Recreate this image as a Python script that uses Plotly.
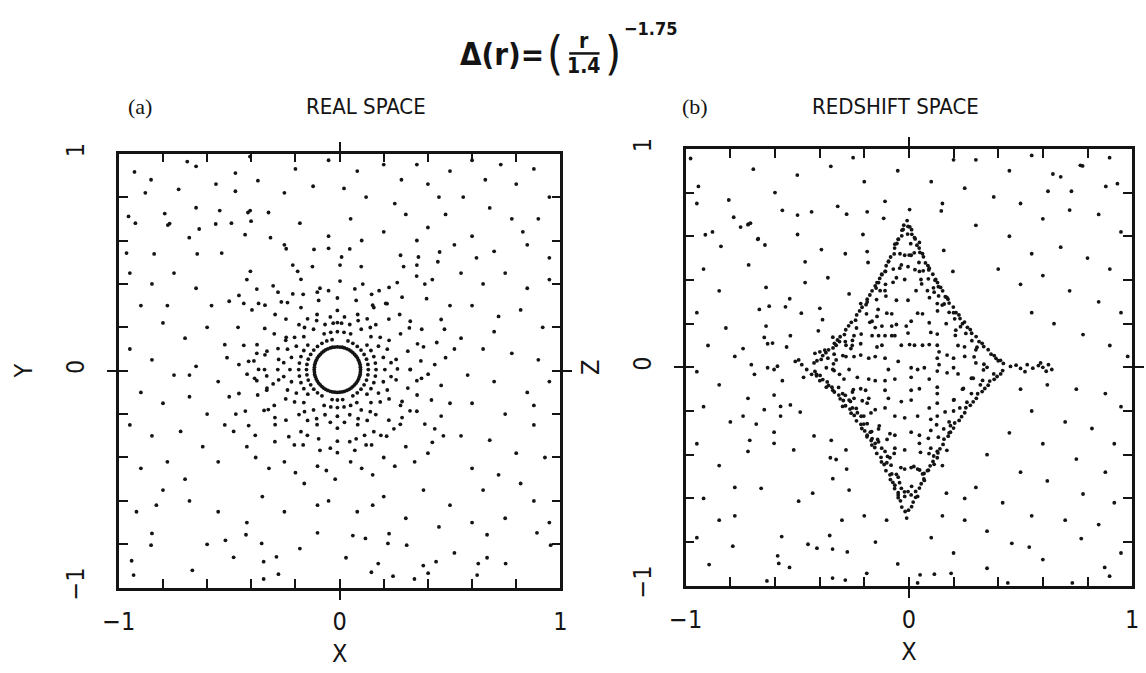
import plotly.graph_objects as go

# ---------------- panel (a): real space, (x, y) ----------------
A_RING1 = [(0.095,0.005),(0.093,0.027),(0.086,0.048),(0.075,0.067),(0.060,0.083),(0.043,0.096),
           (0.022,0.105),(0.001,0.109),(-0.021,0.109),(-0.042,0.105),(-0.063,0.096),(-0.080,0.083),
           (-0.095,0.067),(-0.106,0.048),(-0.113,0.027),(-0.115,0.005),(-0.113,-0.017),(-0.106,-0.038),
           (-0.095,-0.057),(-0.080,-0.073),(-0.063,-0.086),(-0.042,-0.095),(-0.021,-0.099),(0.001,-0.099),
           (0.022,-0.095),(0.043,-0.086),(0.060,-0.073),(0.075,-0.057),(0.086,-0.038),(0.093,-0.017),
           (0.094,0.016),(0.090,0.037),(0.081,0.058),(0.068,0.075),(0.052,0.090),(0.033,0.101),
           (0.012,0.108),(-0.010,0.110),(-0.032,0.108),(-0.053,0.101),(-0.072,0.090),(-0.088,0.075),
           (-0.101,0.058),(-0.110,0.037),(-0.114,0.016),(-0.114,-0.006),(-0.110,-0.027),(-0.101,-0.048),
           (-0.088,-0.065),(-0.072,-0.080),(-0.053,-0.091),(-0.032,-0.098),(-0.010,-0.100),(0.012,-0.098),
           (0.033,-0.091),(0.052,-0.080),(0.068,-0.065),(0.081,-0.048),(0.090,-0.027),(0.094,-0.006)]
A_RING2 = [(0.130,0.005),(0.128,0.029),(0.122,0.053),(0.111,0.075),(0.097,0.095),(0.080,0.112),
           (0.060,0.126),(0.038,0.137),(-0.034,0.143),(-0.058,0.137),(-0.080,0.126),
           (-0.100,0.112),(-0.117,0.095),(-0.131,0.075),(-0.142,0.053),(-0.148,0.029),(-0.150,0.005),
           (-0.148,-0.019),(-0.142,-0.043),(-0.131,-0.065),(-0.117,-0.085),(-0.100,-0.102),(-0.080,-0.116),
           (-0.034,-0.133),(-0.010,-0.135),(0.014,-0.133),(0.060,-0.116),(0.080,-0.102),
           (0.097,-0.085),(0.111,-0.065),(0.122,-0.043),(0.128,-0.019)]
A_RING3 = [(0.124,-0.108),(0.142,-0.083),(0.155,-0.055),(0.162,-0.025),(0.165,0.005),(0.162,0.035),
           (0.155,0.065),(0.142,0.093),(0.124,0.118),(0.050,0.170),(0.020,0.177),(-0.010,0.180),
           (-0.040,0.177),(-0.070,0.170),(-0.144,0.118),(-0.162,0.093),(-0.175,0.065),(-0.182,0.035),
           (-0.185,0.005),(-0.182,-0.025),(-0.175,-0.055),(-0.162,-0.083),(-0.144,-0.108),(-0.070,-0.160),
           (-0.040,-0.167),(-0.010,-0.170),(0.020,-0.167),(0.050,-0.160),(0.078,-0.147)]
A_RING4 = [(0.205,0.005),(0.198,0.061),(0.176,0.113),(0.142,0.157),(0.098,0.191),(0.046,0.213),
           (0.009,0.219),(-0.010,0.222),(-0.029,0.219),(-0.066,0.213),(-0.118,0.191),(-0.162,0.157),
           (-0.196,0.113),(-0.218,0.061),(-0.225,0.005),(-0.218,-0.051),(-0.196,-0.103),(-0.162,-0.147),
           (-0.118,-0.181),(-0.066,-0.203),(-0.010,-0.210),(0.046,-0.203),(0.098,-0.181),(0.142,-0.147),
           (0.176,-0.103),(0.198,-0.051)]
A_RING4B = [(0.233,0.037),(0.216,0.099),(0.184,0.154),(0.139,0.199),(0.084,0.231),(0.022,0.248),
            (-0.042,0.248),(-0.104,0.231),(-0.159,0.199),(-0.204,0.154),(-0.236,0.099),(-0.253,0.037),
            (-0.253,-0.027),(-0.236,-0.089),(-0.204,-0.144),(-0.159,-0.189),(-0.104,-0.221),(-0.042,-0.238),
            (0.022,-0.238),(0.084,-0.221),(0.139,-0.189),(0.184,-0.144),(0.216,-0.089),(0.233,-0.027)]
A_RING5 = [(0.256,0.052),(0.224,0.140),(0.164,0.212),(0.082,0.259),(-0.010,0.278),(-0.102,0.259),
           (-0.184,0.212),(-0.244,0.140),(-0.276,0.052),(-0.276,-0.042),(-0.244,-0.130),(-0.184,-0.202),
           (-0.102,-0.249),(-0.010,-0.265),(0.082,-0.249),(0.164,-0.202),(0.224,-0.130),(0.256,-0.042),
           (0.262,0.008),(0.125,0.239),(-0.145,0.239),(-0.280,0.005),(-0.145,-0.229),(0.125,-0.229)]
A_RING6 = [(0.320,0.005),(0.309,0.090),(0.276,0.170),(0.223,0.238),(0.155,0.291),(0.075,0.324),
           (-0.010,0.335),(-0.095,0.324),(-0.175,0.291),(-0.243,0.238),(-0.296,0.170),(-0.329,0.090),
           (-0.340,0.005),(-0.329,-0.080),(-0.296,-0.160),(-0.243,-0.228),(-0.175,-0.281),(-0.095,-0.314),
           (-0.010,-0.325),(0.075,-0.314),(0.155,-0.281),(0.223,-0.228),(0.276,-0.160),(0.309,-0.080)]
A_RING7 = [(0.368,0.045),(0.353,0.124),(0.316,0.197),(0.272,0.259),(0.215,0.309),(0.145,0.352),
           (0.069,0.377),(-0.089,0.380),(-0.165,0.352),(-0.236,0.314),(-0.292,0.259),(-0.339,0.195),
           (-0.374,0.120),(-0.388,0.045),(-0.385,-0.035),(-0.371,-0.112),(-0.342,-0.183),(-0.292,-0.249),
           (-0.230,-0.304),(-0.165,-0.342),(-0.089,-0.367),(-0.010,-0.378),(0.069,-0.367),(0.145,-0.342),
           (0.213,-0.302),(0.275,-0.247),(0.319,-0.185),(0.351,-0.112),(0.371,-0.035)]
A_MID = [(-0.242,0.562),(-0.116,0.559),(-0.050,0.564),(0.046,0.561),(0.009,0.524),(-0.212,0.487),
         (-0.123,0.480),(0.002,0.487),(0.098,0.480),(0.276,0.532),(0.357,0.524),(0.453,0.547),
         (0.290,0.480),(0.350,0.487),(0.445,0.502),(-0.404,0.458),(-0.190,0.458),(-0.175,0.421),
         (-0.301,0.391),(-0.279,0.362),(-0.456,0.347),(-0.375,0.376),(0.002,0.413),(0.105,0.399),
         (0.179,0.369),(0.224,0.384),(0.261,0.406),(0.349,0.436),(0.386,0.399),(0.394,0.332),
         (0.283,0.339),(0.209,0.310),(0.150,0.302),(-0.050,0.369),(-0.101,0.362),(-0.212,0.354),
         (-0.264,0.317),(-0.367,0.310),(-0.434,0.310),(-0.397,0.280),(-0.338,0.302),(0.460,0.236),
         (0.475,0.191),(0.320,0.228),(0.372,0.191),(0.431,0.028),(0.401,-0.016),(0.320,0.006),
         (0.350,-0.046),(0.460,-0.068),(0.416,-0.135),(0.283,-0.142),(0.350,-0.187),(0.460,-0.209),
         (0.386,-0.246),(0.431,-0.268),(0.283,-0.216),(0.246,-0.268),(0.187,-0.298),(0.113,-0.298),
         (0.120,-0.342),(0.046,-0.327),(-0.042,-0.357),(-0.146,-0.298),(-0.205,-0.342),(-0.293,-0.327),
         (-0.382,-0.298),(-0.412,-0.253),(-0.427,-0.186),(-0.323,-0.179),(-0.293,-0.216),(-0.456,-0.105),
         (-0.419,-0.016),(-0.456,0.028),(-0.412,0.043),(-0.375,0.080),(-0.434,0.117),(-0.367,0.006),
         (-0.375,-0.046),(-0.330,-0.090),(-0.330,-0.024),(-0.301,-0.061),(-0.338,0.073),(-0.279,0.102),
         (-0.242,0.154),(0.380,0.110),(0.440,0.130),(0.480,0.060),(-0.470,-0.200),(-0.460,0.200),
         (0.050,-0.420),(-0.100,-0.440),(0.200,-0.400),(0.300,-0.350),(-0.250,-0.420),(-0.380,-0.400),
         (0.150,-0.480),(-0.020,-0.500),(0.420,-0.330),(-0.160,-0.520),
         (0.100,-0.450),(-0.060,-0.460),(0.250,-0.440),(-0.200,-0.470),(0.340,-0.420),(-0.320,-0.450),
         (0.400,-0.380),(-0.420,-0.350),(0.470,-0.300),(-0.480,-0.280),(0.500,-0.150),(-0.500,-0.120),
         (0.520,0.100),(-0.510,0.060),(0.500,0.300),(-0.500,0.320),(0.420,0.420),(-0.420,0.420)]
A_OUTER = [(-0.929,0.916),(-0.854,0.880),(-0.690,0.964),(-0.650,0.942),(-0.729,0.836),(-0.472,0.911),
           (-0.472,0.827),(-0.370,0.876),(-0.406,0.987),(-0.650,0.751),(-0.543,0.738),(-0.415,0.729),
           (-0.405,0.738),(-0.956,0.711),(-0.925,0.680),(-0.792,0.724),(-0.778,0.671),(-0.770,0.678),
           (-0.636,0.653),(-0.561,0.676),(-0.490,0.680),(-0.401,0.689),(-0.428,0.627),(-0.681,0.613),
           (-0.322,0.729),(-0.313,0.613),(-0.965,0.542),(-0.840,0.538),(-0.645,0.538),(-0.534,0.542),
           (-0.200,0.930),(-0.120,0.850),(-0.050,0.970),(0.080,0.920),(0.120,0.800),(0.200,0.950),
           (0.280,0.880),(0.350,0.950),(0.400,0.860),(0.450,0.800),(0.480,0.720),(0.500,0.920),
           (0.600,0.970),(0.660,0.880),(0.730,0.950),(0.800,0.860),(0.880,0.930),(0.950,0.800),
           (0.900,0.700),(0.780,0.700),(0.680,0.750),(0.600,0.620),(0.520,0.580),(0.400,0.660),
           (0.300,0.720),(0.200,0.640),(0.050,0.700),(-0.050,0.620),(-0.180,0.680),(-0.250,0.580),
           (0.100,0.600),(0.350,0.600),(0.700,0.550),(0.850,0.580),(0.950,0.520),
           (-0.950,0.450),(-0.850,0.400),(-0.750,0.450),(-0.650,0.380),(-0.580,0.300),(-0.900,0.300),
           (-0.800,0.220),(-0.700,0.150),(-0.600,0.200),(-0.520,0.120),(-0.950,0.100),(-0.850,0.050),
           (-0.750,-0.020),(-0.650,0.020),(-0.550,-0.050),(-0.900,-0.100),(-0.800,-0.150),(-0.680,-0.120),
           (-0.600,-0.200),(-0.520,-0.250),(-0.950,-0.250),(-0.850,-0.300),(-0.720,-0.280),(-0.620,-0.350),
           (-0.550,-0.420),(-0.900,-0.450),(-0.780,-0.420),(-0.700,-0.500),
           (0.550,0.450),(0.650,0.400),(0.750,0.450),(0.850,0.380),(0.950,0.420),(0.600,0.300),
           (0.720,0.250),(0.820,0.280),(0.920,0.200),(0.550,0.150),(0.650,0.100),(0.780,0.080),
           (0.900,0.050),(0.580,-0.020),(0.700,-0.050),(0.850,-0.100),(0.950,-0.050),(0.600,-0.150),
           (0.750,-0.200),(0.880,-0.250),(0.550,-0.300),(0.680,-0.320),(0.800,-0.380),(0.930,-0.400),
           (0.600,-0.450),(0.720,-0.480),
           (-0.850,-0.750),(-0.680,-0.600),(-0.600,-0.800),(-0.550,-0.650),(-0.420,-0.700),(-0.350,-0.580),
           (-0.250,-0.650),(-0.100,-0.620),(-0.050,-0.600),(0.080,-0.650),(0.150,-0.620),(0.200,-0.580),
           (0.300,-0.680),(0.380,-0.550),(0.450,-0.720),(0.500,-0.620),(0.600,-0.700),(0.650,-0.550),
           (0.750,-0.680),(0.880,-0.600),(0.950,-0.700),(-0.800,-0.550),(-0.920,-0.650),
           (-0.854,-0.804),(-0.942,-0.876),(-0.933,-0.942),(-0.667,-0.920),(-0.517,-0.782),(-0.424,-0.756),
           (-0.353,-0.796),(-0.344,-0.880),(-0.286,-0.858),(-0.344,-0.960),(-0.277,-0.938),(-0.100,-0.747),
           (0.029,-0.862),(0.117,-0.773),(0.224,-0.751),(0.219,-0.796),(0.304,-0.804),(0.175,-0.889),
           (0.144,-0.929),(0.242,-0.947),(0.339,-0.960),(0.379,-0.898),(0.401,-0.933),(0.437,-0.880),
           (0.623,-0.942),(0.628,-0.889),(0.668,-0.862),(0.752,-0.889),(0.668,-0.756),(0.894,-0.747),
           (0.956,-0.804),
           (-0.880,0.820),(-0.560,0.860),(-0.250,0.820),(0.020,0.840),(0.250,0.770),(0.560,0.800),
           (0.830,0.640),(-0.780,0.300),(-0.680,-0.020),(-0.830,-0.620),(-0.480,-0.860),(-0.180,-0.820),
           (0.060,-0.760),(0.520,-0.840),(0.820,-0.520),(0.880,-0.160),(0.700,0.180),(0.620,0.520)]

# ---------------- panel (b): redshift space, (x, z) ----------------
B_EDGE_RU = [(0.423,0.018),(0.390,0.041),(0.368,0.060),(0.335,0.095),(0.314,0.118),(0.281,0.156),
             (0.262,0.183),(0.229,0.223),(0.211,0.250),(0.180,0.294),(0.163,0.323),(0.132,0.369),
             (0.117,0.399),(0.089,0.446),(0.074,0.478),(0.049,0.526),(0.036,0.559),(0.013,0.609),
             (0.004,0.643),(-0.008,0.672),
             (0.410,0.032),(0.382,0.054),(0.355,0.081),(0.328,0.110),(0.301,0.141),(0.275,0.173),
             (0.249,0.207),(0.224,0.240),(0.199,0.276),(0.175,0.312),(0.151,0.350),(0.128,0.388),
             (0.107,0.426),(0.085,0.466),(0.065,0.506),(0.046,0.546),(0.028,0.588),(0.012,0.630)]
B_EDGE_LU = [(-0.425,0.020),(-0.393,0.036),(-0.372,0.067),(-0.340,0.089),(-0.320,0.125),(-0.289,0.150),
             (-0.270,0.190),(-0.239,0.216),(-0.221,0.258),(-0.192,0.287),(-0.175,0.331),(-0.147,0.363),
             (-0.131,0.407),(-0.105,0.439),(-0.091,0.486),(-0.066,0.519),(-0.054,0.567),(-0.032,0.602),
             (-0.023,0.651),
             (-0.412,0.030),(-0.386,0.054),(-0.360,0.080),(-0.334,0.110),(-0.308,0.140),(-0.283,0.172),
             (-0.258,0.206),(-0.234,0.240),(-0.210,0.275),(-0.187,0.312),(-0.165,0.350),(-0.143,0.388),
             (-0.122,0.426),(-0.102,0.465),(-0.082,0.505),(-0.064,0.546),(-0.047,0.587),(-0.031,0.628)]
B_EDGE_RL = [(0.420,-0.015),(0.395,-0.042),(0.362,-0.063),(0.340,-0.097),(0.308,-0.121),(0.288,-0.158),
             (0.255,-0.185),(0.236,-0.226),(0.205,-0.255),(0.186,-0.297),(0.157,-0.329),(0.139,-0.373),
             (0.111,-0.406),(0.095,-0.451),(0.068,-0.486),(0.055,-0.533),(0.030,-0.568),(0.019,-0.617),
             (-0.002,-0.654),(-0.010,-0.690),
             (0.411,-0.030),(0.382,-0.055),(0.355,-0.082),(0.328,-0.111),(0.302,-0.142),(0.275,-0.174),
             (0.250,-0.208),(0.225,-0.243),(0.200,-0.278),(0.176,-0.315),(0.153,-0.353),(0.130,-0.392),
             (0.108,-0.431),(0.087,-0.471),(0.067,-0.511),(0.047,-0.553),(0.030,-0.595),(0.012,-0.638)]
B_EDGE_LL = [(-0.421,-0.019),(-0.398,-0.037),(-0.366,-0.067),(-0.345,-0.091),(-0.314,-0.127),(-0.294,-0.152),
             (-0.264,-0.191),(-0.245,-0.220),(-0.215,-0.261),(-0.198,-0.291),(-0.169,-0.335),(-0.153,-0.367),
             (-0.125,-0.412),(-0.111,-0.445),(-0.085,-0.492),(-0.072,-0.527),(-0.048,-0.574),(-0.038,-0.611),
             (-0.017,-0.660),
             (-0.414,-0.032),(-0.386,-0.056),(-0.360,-0.083),(-0.334,-0.113),(-0.308,-0.144),(-0.284,-0.176),
             (-0.259,-0.210),(-0.235,-0.245),(-0.211,-0.280),(-0.188,-0.318),(-0.166,-0.356),(-0.144,-0.394),
             (-0.123,-0.433),(-0.103,-0.473),(-0.083,-0.514),(-0.064,-0.555),(-0.048,-0.597),(-0.032,-0.640)]
B_EDGE_IN = [(-0.315,-0.092),(-0.285,-0.128),(-0.262,-0.156),(-0.236,-0.188),(-0.214,-0.224),(-0.187,-0.258),
             (-0.167,-0.294),(-0.140,-0.330),(-0.122,-0.370),(-0.096,-0.408),(-0.080,-0.448),(-0.056,-0.490),
             (-0.042,-0.528),(-0.020,-0.570),
             (0.305,0.092),(0.282,0.122),(0.255,0.155),(0.231,0.186),(0.205,0.222),(0.180,0.252),
             (0.158,0.290),(0.133,0.327),(0.110,0.364),(0.087,0.405),(0.064,0.442),(0.045,0.480),
             (0.024,0.524),(0.008,0.566),(-0.006,0.610),
             (0.330,-0.060),(0.280,-0.120),(0.228,-0.186),(0.180,-0.250),(0.132,-0.320),(0.090,-0.395),
             (0.048,-0.470),(0.012,-0.545),
             (-0.335,0.060),(-0.285,0.118),(-0.235,0.180),(-0.190,0.245),(-0.145,0.310),(-0.105,0.380),
             (-0.070,0.450),(-0.040,0.520)]
B_NEST = [(0.336,0.014),(0.292,0.048),(0.249,0.094),(0.208,0.146),(0.167,0.200),(0.128,0.258),
          (0.092,0.319),(0.057,0.382),(0.027,0.447),(0.001,0.514),
          (-0.338,0.016),(-0.296,0.054),(-0.254,0.100),(-0.214,0.152),(-0.175,0.206),(-0.138,0.265),
          (-0.103,0.326),(-0.071,0.389),(-0.041,0.454),
          (0.334,-0.012),(0.288,-0.050),(0.244,-0.097),(0.202,-0.148),(0.162,-0.204),(0.124,-0.263),
          (0.087,-0.325),(0.052,-0.389),(0.022,-0.454),
          (-0.335,-0.015),(-0.291,-0.054),(-0.249,-0.102),(-0.209,-0.153),(-0.170,-0.209),(-0.133,-0.268),
          (-0.098,-0.330),(-0.066,-0.394),(-0.036,-0.459)]
B_TAIL = [(0.455,0.004),(0.480,0.010),(0.500,-0.005),(0.530,0.012),(0.555,-0.004),(0.580,0.008),
          (0.600,0.000),(0.625,0.012),(0.640,-0.010),(0.615,-0.018),(0.590,0.020),(0.520,-0.020)]
B_INNER = [(-0.092,0.483),(-0.063,0.564),(-0.048,0.586),(-0.026,0.631),(-0.004,0.645),(0.025,0.594),
           (0.047,0.572),(0.061,0.520),(-0.019,0.513),(0.010,0.513),(-0.034,0.469),(-0.004,0.461),
           (0.047,0.439),(0.091,0.454),(-0.056,0.410),(-0.019,0.402),(0.054,0.402),(-0.107,0.439),
           (-0.121,0.424),(-0.136,0.388),(-0.151,0.373),(-0.129,0.351),(0.120,0.402),(0.142,0.366),
           (-0.107,0.351),(-0.056,0.307),(-0.004,0.307),(0.032,0.351),(0.083,0.351),(0.113,0.344),
           (0.127,0.292),(0.149,0.285),(-0.216,0.292),(-0.187,0.299),(-0.099,0.248),(-0.077,0.245),
           (-0.143,0.233),(-0.165,0.211),(0.039,0.248),(0.061,0.245),(0.091,0.204),(0.098,0.160),
           (0.127,0.152),(0.010,0.211),(-0.012,0.189),(-0.056,0.196),(-0.077,0.189),(-0.121,0.189),
           (-0.151,0.182),(-0.165,0.145),(-0.136,0.145),(-0.107,0.145),(-0.077,0.145),(-0.063,0.145),
           (-0.004,0.157),(-0.246,0.145),(-0.253,0.123),(-0.341,0.138),(-0.311,0.118),(-0.326,0.101),
           (-0.282,0.101),(-0.260,0.086),(-0.216,0.108),(-0.143,0.093),(-0.121,0.101),(-0.034,0.101),
           (0.003,0.104),(0.025,0.101),(0.061,0.101),(0.091,0.104),(0.127,0.101),(0.135,0.071),
           (0.127,0.042),(0.135,0.012),(0.171,0.056),(0.200,0.042),(-0.399,0.071),(-0.421,0.064),
           (-0.377,0.079),(-0.363,0.042),(-0.326,0.034),(-0.282,0.049),(-0.246,0.049),(-0.216,0.056),
           (-0.180,0.042),(-0.151,0.049),(-0.107,0.042),(-0.048,0.027),(0.010,-0.002),(0.039,-0.010),
           (0.069,-0.002),(-0.092,-0.010),(-0.480,0.012),(-0.458,-0.010),(-0.436,-0.032),(-0.414,-0.039),
           (-0.399,-0.061),(-0.370,-0.002),(-0.341,-0.010),(-0.311,-0.032),(-0.231,-0.046),(-0.180,-0.054),
           (-0.151,-0.061),(-0.268,-0.010),(-0.107,-0.061),(-0.063,-0.054),(0.010,-0.046),(0.091,-0.054),
           (0.127,-0.017),(0.171,-0.025),(0.200,-0.002),(-0.370,-0.091),(-0.341,-0.105),(-0.297,-0.120),
           (-0.253,-0.113),(-0.216,-0.098),(-0.194,-0.105),(-0.107,-0.105),(-0.092,-0.142),(0.010,-0.105),
           (0.047,-0.098),(0.127,-0.091),(0.127,-0.120),(-0.268,-0.150),(-0.246,-0.142),(-0.180,-0.142),
           (-0.187,-0.164),(-0.034,-0.157),(0.010,-0.150),(0.091,-0.186),(0.127,-0.164),(0.200,-0.150),
           (-0.297,-0.179),(-0.253,-0.186),(-0.231,-0.208),(-0.202,-0.223),(-0.151,-0.194),(-0.107,-0.186),
           (-0.063,-0.223),(-0.019,-0.231),(0.039,-0.223),(0.098,-0.238),(0.127,-0.223),(-0.202,-0.260),
           (-0.173,-0.297),(-0.187,-0.311),(-0.136,-0.282),(-0.085,-0.304),(-0.063,-0.311),(0.010,-0.297),
           (0.047,-0.311),(0.098,-0.289),(0.156,-0.282),(0.186,-0.267),(-0.165,-0.326),(-0.151,-0.348),
           (-0.136,-0.341),(-0.107,-0.385),(-0.085,-0.414),(-0.099,-0.437),(-0.063,-0.370),(-0.019,-0.378),
           (0.047,-0.348),(0.098,-0.370),(0.127,-0.385),(0.127,-0.414),(0.113,-0.444),(0.083,-0.473),
           (-0.077,-0.488),(-0.048,-0.503),(-0.019,-0.466),(0.010,-0.459),(0.039,-0.466),(0.061,-0.488),
           (0.069,-0.518),(-0.063,-0.540),(-0.034,-0.554),(-0.004,-0.569),(-0.048,-0.584),(-0.019,-0.591),
           (0.010,-0.584),(0.039,-0.591),
           (0.220,0.100),(0.250,0.050),(0.300,0.020),(0.350,0.000),(0.280,-0.050),(0.240,-0.100),
           (0.210,0.170),(0.300,0.080),(0.220,-0.030),(0.260,-0.160),(0.200,-0.200),(0.320,-0.080),
           (0.380,-0.030),(0.400,0.030),(0.180,-0.300),(0.200,0.250),(0.170,0.320),(0.240,0.200),
           (0.150,-0.450),(0.170,-0.380)]
B_OUTER = [(-0.978,0.956),(-0.697,0.907),(-0.943,0.828),(-0.807,0.766),(-0.785,0.687),(-0.754,0.642),
           (-0.719,0.656),(-0.710,0.660),(-0.912,0.607),(-0.842,0.554),(-0.675,0.589),
           (0.899,0.960),(0.768,0.925),(0.778,0.922),(0.645,0.885),(0.680,0.872),(0.623,0.806),
           (0.728,0.806),(0.882,0.828),(0.934,0.841),
           (-0.721,0.653),(-0.677,0.586),(-0.645,0.560),(-0.567,0.719),(-0.499,0.697),(-0.436,0.712),
           (-0.319,0.737),(-0.279,0.701),(-0.187,0.712),(-0.107,0.760),(0.003,0.722),(0.145,0.716),
           (-0.113,0.682),(-0.206,0.608),(-0.499,0.608),(-0.392,0.539),(-0.285,0.520),(-0.187,0.530),
           (-0.183,0.480),(-0.465,0.483),(-0.718,0.469),(-0.363,0.410),(-0.465,0.388),(-0.640,0.366),
           (-0.268,0.336),(-0.534,0.314),(-0.670,0.265),(-0.626,0.280),(-0.553,0.277),(-0.482,0.248),
           (-0.399,0.270),(-0.387,0.218),(-0.640,0.189),(-0.531,0.145),(-0.406,0.167),(-0.648,0.137),
           (-0.633,0.108),(-0.611,0.111),(-0.548,0.093),(-0.743,0.086),(-0.706,0.012),(-0.692,-0.032),
           (-0.633,-0.002),(-0.604,-0.010),(-0.589,0.005),(-0.567,-0.061),(-0.509,0.027),(-0.494,0.034),
           (-0.472,-0.046),(-0.721,-0.142),(-0.604,-0.127),(-0.648,-0.194),(-0.575,-0.179),(-0.531,-0.172),
           (-0.487,-0.205),(-0.743,-0.223),(-0.684,-0.260),(-0.604,-0.297),(-0.575,-0.223),(-0.713,-0.334),
           (-0.604,-0.348),(-0.516,-0.378),(-0.721,-0.385),(-0.425,-0.314),(-0.348,-0.334),(-0.282,-0.378),
           (-0.352,-0.414),(-0.326,-0.422),(-0.279,-0.466),(-0.341,-0.510),(-0.268,-0.562),(-0.662,-0.554),
           (-0.431,-0.576),(-0.494,-0.613),(0.168,-0.576),(0.156,0.535),(0.197,0.439),
           (0.300,0.950),(0.450,0.900),(0.550,0.970),(0.250,0.820),(0.380,0.780),(0.500,0.750),
           (0.600,0.680),(0.720,0.720),(0.850,0.700),(0.950,0.620),(0.300,0.650),(0.450,0.600),
           (0.550,0.520),(0.680,0.550),(0.800,0.500),(0.900,0.450),(0.400,0.450),(0.500,0.380),
           (0.600,0.420),(0.720,0.350),(0.850,0.300),(0.950,0.250),(0.550,0.250),(0.650,0.200),
           (0.780,0.150),(0.900,0.100),(0.980,0.050),
           (0.500,-0.100),(0.620,-0.080),(0.750,-0.100),(0.880,-0.120),(0.950,-0.180),(0.550,-0.200),
           (0.700,-0.250),(0.820,-0.280),(0.920,-0.350),(0.450,-0.300),(0.600,-0.350),(0.750,-0.420),
           (0.880,-0.480),(0.350,-0.400),(0.500,-0.480),(0.620,-0.520),(0.780,-0.580),(0.920,-0.620),
           (0.300,-0.550),(0.420,-0.620),(0.550,-0.680),(0.700,-0.700),(0.850,-0.720),(0.250,-0.700),
           (0.350,-0.750),(0.950,-0.850),(0.600,-0.880),(0.350,-0.920),
           (-0.950,0.750),(-0.880,0.620),(-0.920,0.450),(-0.850,0.350),(-0.950,0.250),(-0.820,0.180),
           (-0.900,0.100),(-0.780,0.050),(-0.950,-0.020),(-0.850,-0.080),(-0.920,-0.180),(-0.800,-0.250),
           (-0.950,-0.350),(-0.850,-0.450),(-0.780,-0.550),(-0.920,-0.600),(-0.850,-0.700),(-0.950,-0.780),
           (-0.780,-0.680),
           (-0.200,-0.680),(-0.150,-0.800),(-0.050,-0.900),(0.100,-0.780),(0.200,-0.850),(0.150,-0.680),
           (0.250,-0.600),(0.050,-0.950),(-0.300,-0.700),(-0.100,-0.700),
           (-0.050,0.900),(0.100,0.850),(0.200,0.950),(-0.200,0.850),(-0.350,0.920),(-0.500,0.880),
           (-0.600,0.800),(0.150,0.750),(-0.250,0.960),
           (-0.789,-0.819),(-0.570,-0.775),(-0.452,-0.810),(-0.412,-0.828),(-0.355,-0.770),(-0.342,-0.832),
           (-0.276,-0.845),(-0.588,-0.863),(-0.583,-0.898),(-0.535,-0.916),(-0.895,-0.903),(-0.636,-0.978),
           (-0.342,-0.965),(-0.285,-0.974),(-0.189,-0.943),(0.039,-0.987),(0.114,-0.947),(0.189,-0.943),
           (0.443,-0.987),(0.461,-0.806),(0.539,-0.823),(0.772,-0.784),(0.877,-0.916),(0.899,-0.956),
           (0.732,-0.987)]

TICK_VALS = [-1, -0.8, -0.6, -0.4, -0.2, 0, 0.2, 0.4, 0.6, 0.8, 1]
TICK_TEXT = ["\u22121", "", "", "", "", "0", "", "", "", "", "1"]

A_POINTS = (A_RING1 + A_RING2 + A_RING3 + A_RING4 + A_RING4B + A_RING5 + A_RING6 + A_RING7
            + A_MID + A_OUTER)
B_POINTS = (B_EDGE_RU + B_EDGE_LU + B_EDGE_RL + B_EDGE_LL + B_EDGE_IN + B_NEST + B_TAIL
            + B_INNER + B_OUTER)

INK = "#141414"
SANS = "Liberation Sans Narrow, DejaVu Sans Condensed, Arial Narrow, sans-serif"
SERIF = "Liberation Serif, DejaVu Serif, serif"

fig = go.Figure()
fig.add_trace(go.Scatter(x=[p[0] for p in A_POINTS], y=[p[1] for p in A_POINTS], mode="markers",
                         marker=dict(size=3.8, color=INK), xaxis="x", yaxis="y", hoverinfo="skip"))
fig.add_trace(go.Scatter(x=[p[0] for p in B_POINTS], y=[p[1] for p in B_POINTS], mode="markers",
                         marker=dict(size=3.8, color=INK), xaxis="x2", yaxis="y2", hoverinfo="skip"))
# carriers for the overlay axes that draw the crossing zero ticks
fig.add_trace(go.Scatter(x=[None], y=[None], xaxis="x3", yaxis="y3", showlegend=False))
fig.add_trace(go.Scatter(x=[None], y=[None], xaxis="x4", yaxis="y4", showlegend=False))

W, H = 1146, 673
pa = dict(x0=104, x1=555, y0=148, y1=598)
pb = dict(x0=683, x1=1139, y0=143, y1=596)

def xdom(p):
    return [p["x0"] / W, p["x1"] / W]

def ydom(p):
    return [1 - p["y1"] / H, 1 - p["y0"] / H]

def main_axis(dom, anchor, title, is_y):
    d = dict(domain=dom, anchor=anchor, range=[-1, 1], showgrid=False, zeroline=False,
             showline=True, linecolor=INK, linewidth=2.5, mirror="allticks",
             ticks="inside", ticklen=9, tickwidth=1.6, tickcolor=INK,
             tickmode="array", tickvals=TICK_VALS, ticktext=TICK_TEXT,
             tickfont=dict(family=SANS, size=25, color=INK),
             title=dict(text=title, font=dict(family=SANS, size=25, color=INK)))
    if is_y:
        d.update(tickangle=-90, ticklabelstandoff=22)
        d["title"]["standoff"] = 22
    else:
        d.update(ticklabelstandoff=10)
        d["title"]["standoff"] = 10
    return d

def zero_axis(dom, anchor, overlay, is_y):
    return dict(domain=dom, anchor=anchor, overlaying=overlay, range=[-1, 1], showgrid=False,
                zeroline=False, showline=False, mirror="ticks", ticks="outside", ticklen=11,
                tickwidth=1.6, tickcolor=INK, tickmode="array", tickvals=[0],
                showticklabels=False)

fig.update_layout(
    width=W, height=H, margin=dict(l=0, r=0, t=0, b=0),
    paper_bgcolor="white", plot_bgcolor="white", showlegend=False,
    xaxis=main_axis(xdom(pa), "y", "X", False),
    yaxis=main_axis(ydom(pa), "x", "Y", True),
    xaxis2=main_axis(xdom(pb), "y2", "X", False),
    yaxis2=main_axis(ydom(pb), "x2", "Z", True),
    xaxis3=zero_axis(xdom(pa), "y3", "x", False),
    yaxis3=zero_axis(ydom(pa), "x3", "y", True),
    xaxis4=zero_axis(xdom(pb), "y4", "x2", False),
    yaxis4=zero_axis(ydom(pb), "x4", "y2", True),
)

def ann(text, px, py, size, family=SANS, xanchor="center"):
    fig.add_annotation(text=text, x=px / W, y=1 - py / H, xref="paper", yref="paper",
                       showarrow=False, xanchor=xanchor, yanchor="middle",
                       font=dict(family=family, size=size, color=INK))

# panel headings
ann("(a)", 126, 99, 22, SERIF)
ann("REAL SPACE", 356, 99, 22)
ann("(b)", 692, 99, 22, SERIF)
ann("REDSHIFT SPACE", 897, 99, 22)

# formula: Delta(r) = (r / 1.4)^-1.75
OFF = 40
ann("<b>\u0394(r)=</b>", 500 + OFF, 45, 31, xanchor="right")
ann("(", 509 + OFF, 44, 46)
ann("<b>r</b>", 539 + OFF, 31, 21)
ann("<b>1.4</b>", 539 + OFF, 57, 21)
ann(")", 569 + OFF, 44, 46)
ann("<b>\u22121.75</b>", 578 + OFF, 18, 18, xanchor="left")
fig.add_shape(type="line", xref="paper", yref="paper", x0=(524 + OFF) / W, x1=(555 + OFF) / W,
              y0=1 - 44 / H, y1=1 - 44 / H, line=dict(color=INK, width=2.5))

fig.write_html("out.html")
